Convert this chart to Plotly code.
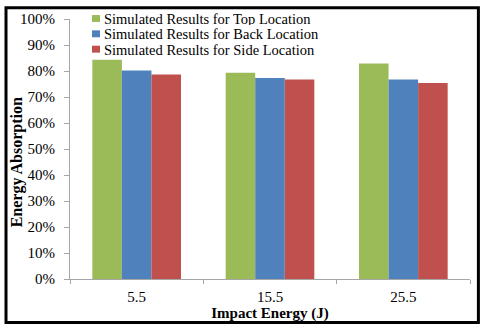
import plotly.graph_objects as go

categories = ["5.5", "15.5", "25.5"]
top_vals = [0.843, 0.793, 0.829]
back_vals = [0.802, 0.773, 0.767]
side_vals = [0.787, 0.767, 0.754]
series_names = ["Simulated Results for Top Location",
                "Simulated Results for Back Location",
                "Simulated Results for Side Location"]
colors = ["#9BBB59", "#4F81BD", "#C0504D"]
x_title = "Impact Energy (J)"
y_title = "Energy Absorption"

FONT = "Liberation Serif"
FS = 15

fig = go.Figure()
for name, vals, c in zip(series_names, [top_vals, back_vals, side_vals], colors):
    fig.add_trace(go.Bar(x=categories, y=vals, name=name,
                         marker=dict(color=c, line=dict(width=0))))

# manual legend (tight line spacing like the original)
W, H = 400.0, 263.0
shapes = []
annotations = []
for i, (name, c) in enumerate(zip(series_names, colors)):
    cy = 15.5 + 15.5 * i
    shapes.append(dict(type="rect", xref="paper", yref="paper",
                       x0=(92 - 70) / W, x1=(100 - 70) / W,
                       y0=(279 - (cy + 3.5)) / H, y1=(279 - (cy - 3.5)) / H,
                       fillcolor=c, line=dict(width=0)))
    annotations.append(dict(xref="paper", yref="paper", x=(103 - 70) / W,
                            y=(279 - cy) / H, xanchor="left", yanchor="middle",
                            text=name, showarrow=False, height=13, borderpad=0,
                            valign="middle",
                            font=dict(family=FONT, size=14.5, color="black")))

# y-axis title (placed slightly below plot centre, as in the original)
annotations.append(dict(xref="paper", yref="paper", x=(17 - 70) / W,
                        y=(279 - 161) / H, xanchor="center", yanchor="middle",
                        text="<b>" + y_title + "</b>", textangle=-90, showarrow=False,
                        borderpad=0, font=dict(family=FONT, size=16, color="black")))

shapes.append(dict(type="rect", xref="paper", yref="paper",
                   x0=-0.16, x1=1.021, y0=-0.1673, y1=1.0437,
                   line=dict(color="black", width=3), fillcolor="rgba(0,0,0,0)"))

fig.update_layout(
    width=481, height=329,
    margin=dict(l=70, r=11, t=16, b=50),
    paper_bgcolor="white", plot_bgcolor="white",
    barmode="group", bargap=0.335, bargroupgap=0,
    font=dict(family=FONT, size=FS, color="black"),
    showlegend=False,
    xaxis=dict(type="category", showline=True, linecolor="#A6A6A6", linewidth=1,
               ticks="outside", tickson="boundaries", ticklen=4, tickcolor="#A6A6A6",
               showgrid=False, tickfont=dict(size=FS, family=FONT),
               ticklabelstandoff=4,
               title=dict(text="<b>" + x_title + "</b>", font=dict(size=FS, family=FONT), standoff=0)),
    yaxis=dict(range=[0, 1], tickformat=".0%", dtick=0.1, showline=True,
               linecolor="#A6A6A6", linewidth=1, ticks="outside", ticklen=5,
               tickcolor="#A6A6A6", showgrid=False, zeroline=False,
               tickfont=dict(size=FS, family=FONT), ticklabelstandoff=6),
    shapes=shapes,
    annotations=annotations,
)

fig.write_html("out.html", config={"displayModeBar": False},
               post_script="document.body.style.margin='0px';")
